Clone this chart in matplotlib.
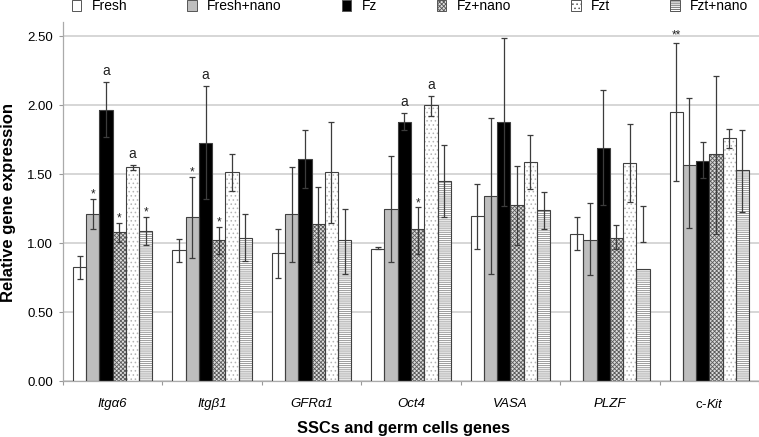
import numpy as np
import matplotlib
matplotlib.use('Agg')
import matplotlib.pyplot as plt
import matplotlib.patches as mpatches

plt.rcParams['font.family'] = ['Liberation Sans', 'DejaVu Sans']
plt.rcParams['mathtext.fontset'] = 'custom'
plt.rcParams['mathtext.rm'] = 'Liberation Sans'
plt.rcParams['mathtext.it'] = 'Liberation Sans:italic'
plt.rcParams['hatch.linewidth'] = 0.6

genes = ['Itgα6', 'Itgβ1', 'GFRα1', 'Oct4', 'VASA', 'PLZF', r'c-$\mathit{Kit}$']
series = ['Fresh', 'Fresh+nano', 'Fz', 'Fz+nano', 'Fzt', 'Fzt+nano']

fresh = [0.83, 0.95, 0.93, 0.96, 1.20, 1.07, 1.95]
fresh_nano = [1.21, 1.19, 1.21, 1.25, 1.34, 1.02, 1.57]
fz = [1.97, 1.73, 1.61, 1.88, 1.88, 1.69, 1.60]
fz_nano = [1.08, 1.02, 1.14, 1.10, 1.28, 1.04, 1.65]
fzt = [1.55, 1.52, 1.52, 2.00, 1.59, 1.58, 1.76]
fzt_nano = [1.09, 1.04, 1.02, 1.45, 1.24, 0.81, 1.53]
values = [fresh, fresh_nano, fz, fz_nano, fzt, fzt_nano]

# lower / upper ends of the error bars, per series
err_low = [
    [0.74, 0.86, 0.75, 0.955, 0.96, 0.95, 1.45],
    [1.10, 0.89, 0.86, 0.86, 0.78, 0.77, 1.11],
    [1.77, 1.32, 1.40, 1.82, 1.27, 1.28, 1.47],
    [1.005, 0.92, 0.86, 0.92, 0.99, 0.955, 1.07],
    [1.533, 1.38, 1.15, 1.92, 1.39, 1.30, 1.69],
    [0.99, 0.87, 0.78, 1.19, 1.10, 1.01, 1.225],
]
err_high = [
    [0.91, 1.03, 1.10, 0.975, 1.43, 1.19, 2.45],
    [1.32, 1.48, 1.55, 1.63, 1.91, 1.29, 2.05],
    [2.17, 2.14, 1.82, 1.945, 2.49, 2.11, 1.735],
    [1.146, 1.12, 1.41, 1.26, 1.56, 1.13, 2.21],
    [1.567, 1.645, 1.88, 2.07, 1.785, 1.865, 1.825],
    [1.19, 1.21, 1.25, 1.71, 1.37, 1.27, 1.82],
]

# (gene, series, label)
marks = [(0, 1, '*'), (0, 2, 'a'), (0, 3, '*'), (0, 4, 'a'), (0, 5, '*'),
         (1, 1, '*'), (1, 2, 'a'), (1, 3, '*'),
         (3, 2, 'a'), (3, 3, '*'), (3, 4, 'a'),
         (6, 0, '**')]

faces = ['white', '#bebebe', 'black', '#dedede', 'white', 'white']
hatches = [None, None, None, 'xxxxxxxx', '....', '--------']
hatch_cols = ['white', '#bebebe', 'black', '#5a5a5a', '#b4b4b4', '#8c8c8c']
outline = '#404040'

fig = plt.figure(figsize=(7.59, 4.37), dpi=100)
ax = fig.add_axes([63 / 759, 56 / 437, (759 - 63) / 759, 359 / 437])

w = 0.8 / 6
idx = np.arange(len(genes))
for i in range(len(series)):
    x = idx + (i - 2.5) * w
    ax.bar(x, values[i], w, color=faces[i], edgecolor=hatch_cols[i],
           linewidth=0, hatch=hatches[i], zorder=2)
    ax.bar(x, values[i], w, fill=False, edgecolor=outline, linewidth=0.8, zorder=3)
    lo = np.array(err_low[i])
    hi = np.array(err_high[i])
    ax.errorbar(x, (lo + hi) / 2, yerr=(hi - lo) / 2, fmt='none', ecolor='#3c3c3c',
                elinewidth=0.9, capsize=2, capthick=0.9, zorder=4)

offsets = {'a': 5.0, '*': 1.0, '**': 3.5}
sizes = {'a': 10, '*': 8.5, '**': 8.5}
for g, s, lab in marks:
    x = g + (s - 2.5) * w
    ax.annotate(lab, (x, err_high[s][g]), xytext=(0, offsets[lab]),
                textcoords='offset points', ha='center', va='baseline',
                fontsize=sizes[lab], color='#222222', zorder=5)

ax.set_ylim(0, 2.605)
ax.set_xlim(-0.5, (759 - 63) / 100.4 - 0.5)
ax.set_yticks(np.arange(0, 2.51, 0.5))
ax.set_yticklabels(['{:.2f}'.format(v) for v in np.arange(0, 2.51, 0.5)], fontsize=9.5)
ax.yaxis.grid(True, color='#cccccc', linewidth=1.1, zorder=0)
ax.set_axisbelow(True)

ax.set_xticks(np.arange(-0.5, 7, 1))
ax.set_xticklabels([])
ax.set_xticks(idx, minor=True)
ax.set_xticklabels(genes, minor=True, fontsize=9.5)
for t in ax.get_xticklabels(minor=True)[:6]:
    t.set_fontstyle('italic')
ax.tick_params(axis='x', which='minor', length=0, pad=12)
ax.tick_params(axis='both', which='major', length=3, color='#999999', width=0.8)
ax.tick_params(axis='y', pad=4)

for side in ['top', 'right']:
    ax.spines[side].set_visible(False)
for side in ['left', 'bottom']:
    ax.spines[side].set_color('#aaaaaa')
    ax.spines[side].set_linewidth(0.9)

fig.text(8.3 / 759, 1 - 202.5 / 437, 'Relative gene expression', rotation=90,
         ha='center', va='center', fontsize=12, fontweight='bold')
fig.text(404 / 759, 1 - 428 / 437, 'SSCs and germ cells genes',
         ha='center', va='center', fontsize=11.8, fontweight='bold')

handles = [mpatches.Patch(facecolor=faces[i], edgecolor='#555555', hatch=hatches[i],
                          linewidth=0.7) for i in range(len(series))]
fig.legend(handles, series, ncol=6, loc='center', bbox_to_anchor=(410 / 759, 1 - 6.5 / 437),
           frameon=False, fontsize=10, handlelength=0.7, handleheight=0.8,
           handletextpad=0.75, columnspacing=4.3, borderpad=0, borderaxespad=0)

fig.savefig('out.png', dpi=100)
